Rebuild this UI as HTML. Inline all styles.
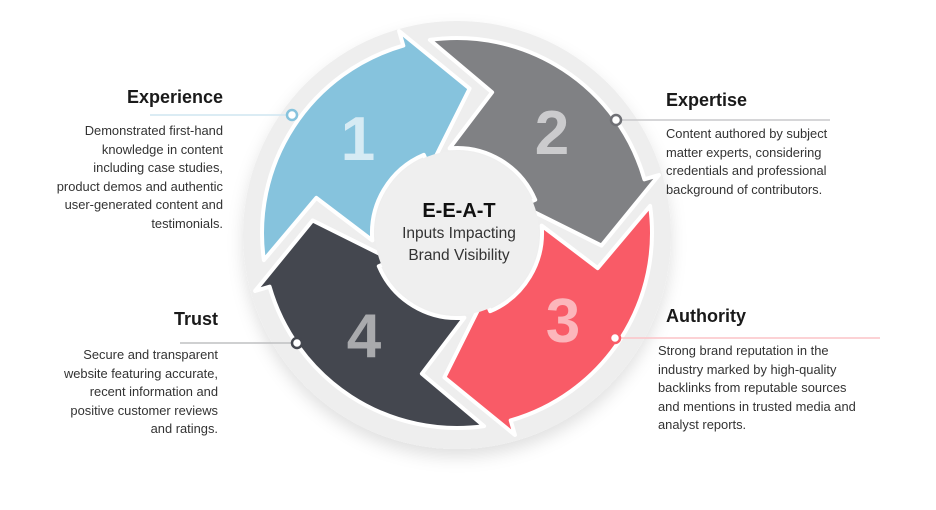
<!DOCTYPE html>
<html><head><meta charset="utf-8"><style>
body{margin:0;background:#fff;width:936px;height:510px;overflow:hidden;font-family:"Liberation Sans",sans-serif;}
.t{position:absolute;font-size:18px;font-weight:bold;color:#1a1a1a;}
.d{position:absolute;font-size:12.9px;line-height:18.5px;color:#333;white-space:nowrap}
.r{text-align:right}
</style></head><body>
<svg width="936" height="510" style="position:absolute;left:0;top:0">
<defs>
<filter id="sh" x="-20%" y="-20%" width="140%" height="140%"><feDropShadow dx="0" dy="8" stdDeviation="8" flood-color="#000" flood-opacity="0.12"/></filter>
<path id="ar" d="M263.9,260.1 A195,195 0 0 1 403.3,45.6 L399.1,31.1 L469.6,88.6 L429.7,168.6 L423.8,154.8 A85,85 0 0 0 372.3,240.4 L316.3,197.9 Z" stroke="#fff" stroke-width="4" stroke-linejoin="round"/>
</defs>
<circle cx="457" cy="235" r="214" fill="#eeeeee" filter="url(#sh)"/>
<use href="#ar" fill="#86c3dd"/>
<use href="#ar" fill="#808184" transform="rotate(90 457 233)"/>
<use href="#ar" fill="#f95b67" transform="rotate(180 457 233)"/>
<use href="#ar" fill="#44474f" transform="rotate(270 457 233)"/>
<circle cx="457" cy="233" r="82" fill="#efefef"/>
<g font-family="Liberation Sans,sans-serif" font-weight="bold" font-size="62" text-anchor="middle">
<text x="358" y="160" fill="#d6ebf4">1</text>
<text x="552" y="154" fill="#cbcbcd">2</text>
<text x="563" y="342" fill="#fcb6bb">3</text>
<text x="364" y="357" fill="#a9aaad">4</text>
</g>
<g text-anchor="middle" fill="#111">
<text x="459" y="217" font-size="20" font-weight="bold">E-E-A-T</text>
<text x="459" y="238" font-size="15.5" fill="#333">Inputs Impacting</text>
<text x="459" y="260" font-size="15.5" fill="#333">Brand Visibility</text>
</g>
<line x1="150" y1="115" x2="287" y2="115" stroke="#cfe6f1" stroke-width="1.5"/>
<circle cx="292" cy="115" r="5" fill="#fff" stroke="#86c3dd" stroke-width="2.5"/>
<line x1="621" y1="120" x2="830" y2="120" stroke="#c9c9cb" stroke-width="1.5"/>
<circle cx="616" cy="120" r="5" fill="#fff" stroke="#6f7075" stroke-width="2.5"/>
<line x1="620" y1="338" x2="880" y2="338" stroke="#fbc3c7" stroke-width="1.5"/>
<circle cx="615" cy="338" r="5" fill="#fff" stroke="#f95b67" stroke-width="2.5"/>
<line x1="180" y1="343" x2="292" y2="343" stroke="#bfc0c2" stroke-width="1.5"/>
<circle cx="297" cy="343" r="5" fill="#fff" stroke="#44474f" stroke-width="2.5"/>
</svg>
<div class="t r" style="right:713px;top:87px">Experience</div>
<div class="d r" style="right:713px;top:122px;width:200px">Demonstrated first-hand<br>knowledge in content<br>including case studies,<br>product demos and authentic<br>user-generated content and<br>testimonials.</div>
<div class="t" style="left:666px;top:90px">Expertise</div>
<div class="d" style="left:666px;top:125px">Content authored by subject<br>matter experts, considering<br>credentials and professional<br>background of contributors.</div>
<div class="t" style="left:666px;top:306px">Authority</div>
<div class="d" style="left:658px;top:342px">Strong brand reputation in the<br>industry marked by high-quality<br>backlinks from reputable sources<br>and mentions in trusted media and<br>analyst reports.</div>
<div class="t r" style="right:718px;top:309px">Trust</div>
<div class="d r" style="right:718px;top:346px;width:200px">Secure and transparent<br>website featuring accurate,<br>recent information and<br>positive customer reviews<br>and ratings.</div>
</body></html>
